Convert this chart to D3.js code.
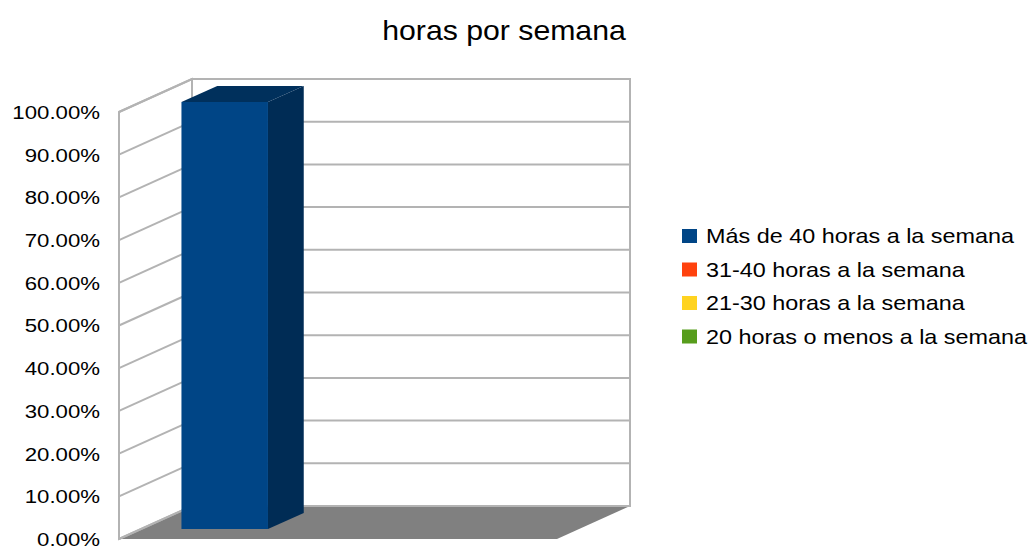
<!DOCTYPE html>
<html lang="es">

<head>
  <meta charset="UTF-8">
  <title>horas por semana</title>
  <style>
    body { margin: 0; background: #fff; }
    text { font-family: "Liberation Sans", Arial, sans-serif; fill: #000; }
  </style>
</head>

<body>
  <svg></svg>
  <script src="https://cdn.jsdelivr.net/npm/d3@7"></script>
  <script>
    // datos
    var series = ["Más de 40 horas a la semana", "31-40 horas a la semana",
      "21-30 horas a la semana", "20 horas o menos a la semana"];
    var values = [1.0, 0, 0, 0];
    var colors = ["#004586", "#ff420e", "#ffd320", "#579d1c"];
    var tickValues = [0, 0.1, 0.2, 0.3, 0.4, 0.5, 0.6, 0.7, 0.8, 0.9, 1.0];
    var title = "horas por semana";

    var svg = d3.select("svg")
      .attr("width", 1032)
      .attr("height", 548);

    // proyeccion oblicua: x frontal, valor, profundidad (0 = frente, 1 = fondo)
    var depthX = 73, depthY = 33;
    var x = d3.scaleBand().domain(series).range([119, 557]).paddingInner(0.04).paddingOuter(0.45);
    var y = d3.scaleLinear().domain([0, 1]).range([539, 112]);
    function P(xf, v, w) {
      return [xf + w * depthX, y(v) - w * depthY];
    }
    function poly(pts) {
      return "M" + pts.map(p => p.join(",")).join("L") + "Z";
    }

    var grid = "#b3b3b3";
    var xL = 119, xR = 557;

    // suelo
    svg.append("path")
      .attr("d", poly([P(xL, 0, 0), P(xR, 0, 0), P(xR, 0, 1), P(xL, 0, 1)]))
      .attr("fill", "#808080");

    // pared izquierda
    svg.append("path")
      .attr("d", poly([P(xL, 0, 0), P(xL, 1, 0), P(xL, 1, 1), P(xL, 0, 1)]))
      .attr("fill", "#fff")
      .attr("stroke", grid)
      .attr("stroke-width", 2);

    // pared trasera
    svg.append("path")
      .attr("d", poly([P(xL, 0, 1), P(xL, 1, 1), P(xR, 1, 1), P(xR, 0, 1)]))
      .attr("fill", "#fff")
      .attr("stroke", grid)
      .attr("stroke-width", 2);

    // lineas de cuadricula
    var g = svg.append("g").attr("stroke", grid).attr("stroke-width", 2).attr("fill", "none");
    g.selectAll("path.left")
      .data(tickValues)
      .join("path")
      .attr("class", "left")
      .attr("d", d => "M" + P(xL, d, 0) + "L" + P(xL, d, 1));
    g.selectAll("path.back")
      .data(tickValues)
      .join("path")
      .attr("class", "back")
      .attr("d", d => "M" + P(xL, d, 1) + "L" + P(xR, d, 1));

    // barras 3D
    var w1 = 0.3, w2 = 0.79;
    var bars = svg.append("g");
    series.forEach(function (s, i) {
      var v = values[i];
      if (!(v > 0)) return;
      var x0 = x(s), x1 = x(s) + x.bandwidth();
      var bg = bars.append("g").attr("stroke-linejoin", "round");
      // lado
      bg.append("path")
        .attr("d", poly([P(x1, 0, w1), P(x1, v, w1), P(x1, v, w2), P(x1, 0, w2)]))
        .attr("fill", "#002c55");
      // tapa
      bg.append("path")
        .attr("d", poly([P(x0, v, w1), P(x0, v, w2), P(x1, v, w2), P(x1, v, w1)]))
        .attr("fill", "#00305c");
      // frente
      bg.append("path")
        .attr("d", poly([P(x0, 0, w1), P(x0, v, w1), P(x1, v, w1), P(x1, 0, w1)]))
        .attr("fill", colors[i]);
    });

    // eje vertical
    var sx = 1.17;
    var axis = svg.append("g")
      .attr("transform", "translate(" + xL + ",0)")
      .call(d3.axisLeft(y).tickValues(tickValues).tickSize(0).tickFormat(d3.format(".2%")));
    axis.select(".domain").remove();
    axis.selectAll("text")
      .attr("font-family", "Liberation Sans, Arial, sans-serif")
      .attr("font-size", "19px")
      .attr("fill", "#000")
      .attr("x", -19 / sx)
      .attr("dy", "0.34em")
      .attr("transform", "scale(" + sx + ",1)");

    // titulo
    svg.append("text")
      .attr("transform", "translate(504,40) scale(1.08,1)")
      .attr("text-anchor", "middle")
      .attr("font-size", "28px")
      .text(title);

    // leyenda
    var legend = svg.append("g").attr("transform", "translate(682,236)");
    var rows = legend.selectAll("g")
      .data(series)
      .join("g")
      .attr("transform", (d, i) => "translate(0," + i * 33.5 + ")");
    rows.append("rect")
      .attr("x", 0)
      .attr("y", -7)
      .attr("width", 15)
      .attr("height", 14)
      .attr("fill", (d, i) => colors[i]);
    rows.append("text")
      .attr("transform", "translate(24,0) scale(1.17,1)")
      .attr("dy", "0.36em")
      .attr("font-size", "20px")
      .text(d => d);
  </script>
</body>

</html>
